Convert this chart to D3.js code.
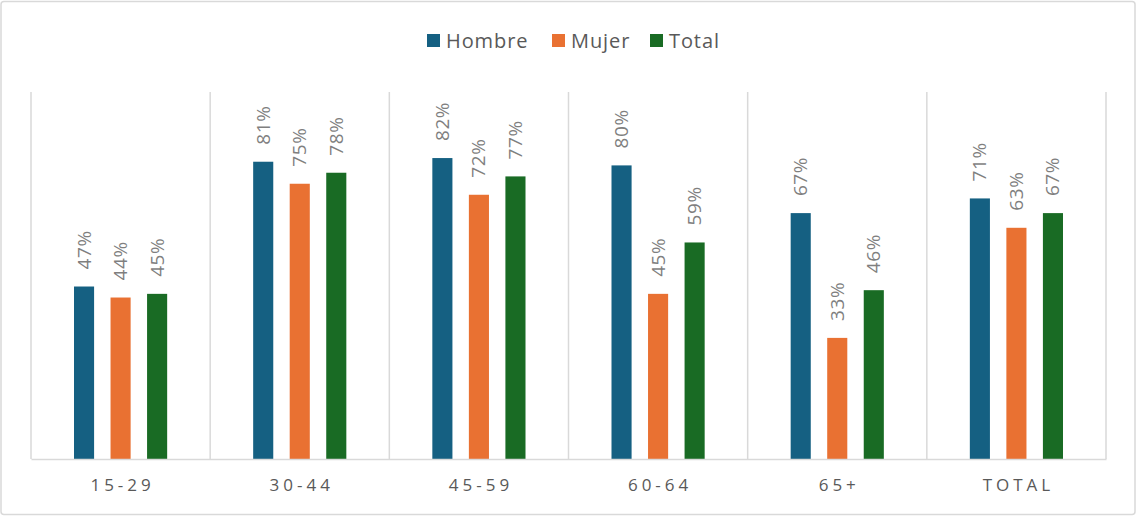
<!DOCTYPE html>
<html>
<head>
<meta charset="utf-8">
<script src="https://cdn.jsdelivr.net/npm/d3@7"></script>
<style>
  html, body { margin: 0; padding: 0; background: #fff; }
  svg { display: block; }
  text { font-family: "Open Sans", "Liberation Sans", Arial, sans-serif; }
</style>
</head>
<body>
<svg id="chart" width="1137" height="516"></svg>
<script>
const categories = ["15-29", "30-44", "45-59", "60-64", "65+", "TOTAL"];
const seriesNames = ["Hombre", "Mujer", "Total"];
const hombre = [47, 81, 82, 80, 67, 71];
const mujer = [44, 75, 72, 45, 33, 63];
const total = [45, 78, 77, 59, 46, 67];
const colors = ["#156082", "#E97132", "#196B24"];
const yMax = 100;

const seriesValues = [hombre, mujer, total];
const data = categories.map((c, i) => ({
  cat: c,
  vals: seriesNames.map((s, j) => ({ s, v: seriesValues[j][i], color: colors[j] }))
}));

const svg = d3.select("#chart");
const W = 1137, H = 516;
const plot = { left: 31, right: 1106, top: 92, bottom: 459 };

svg.append("rect").attr("x", 1).attr("y", 1.5).attr("width", W - 3).attr("height", H - 3)
  .attr("rx", 3).attr("fill", "#fff").attr("stroke", "#d9d9d9").attr("stroke-width", 1.5);

const x0 = d3.scaleBand().domain(categories).range([plot.left, plot.right]).padding(0);
const x1 = d3.scaleBand().domain(seriesNames).range([0, x0.bandwidth()])
  .paddingInner(0.45).paddingOuter(1.177);
const y = d3.scaleLinear().domain([0, yMax]).range([plot.bottom, plot.top]);

// separators
const bounds = categories.map(c => x0(c)).concat([x0(categories[categories.length - 1]) + x0.bandwidth()]);
svg.append("g").selectAll("line").data(bounds).join("line")
  .attr("x1", d => d).attr("x2", d => d)
  .attr("y1", y(yMax)).attr("y2", plot.bottom)
  .attr("stroke", "#d9d9d9").attr("stroke-width", 1.5);

// bars
const g = svg.append("g").selectAll("g").data(data).join("g")
  .attr("transform", d => `translate(${x0(d.cat)},0)`);
g.selectAll("rect").data(d => d.vals).join("rect")
  .attr("x", d => x1(d.s)).attr("width", x1.bandwidth())
  .attr("y", d => y(d.v)).attr("height", d => plot.bottom - y(d.v))
  .attr("fill", d => d.color);

g.selectAll("text").data(d => d.vals).join("text")
  .attr("transform", d => `translate(${x1(d.s) + x1.bandwidth() / 2 + 6.5},${y(d.v) - 17}) rotate(-90)`)
  .attr("text-anchor", "start")
  .attr("font-size", 19)
  .attr("letter-spacing", "0.6px")
  .attr("fill", "#7f7f7f")
  .text(d => d.v + "%");

// baseline axis
const xAxis = d3.axisBottom(x0).tickSize(0).tickPadding(20);
const ax = svg.append("g").attr("transform", `translate(0,${plot.bottom})`).call(xAxis);
ax.select(".domain").attr("stroke", "#d9d9d9").attr("stroke-width", 1.5);
ax.selectAll("text")
  .attr("font-size", 17).attr("fill", "#595959")
  .attr("letter-spacing", "4px")
  .attr("dx", "2px")
  .style("font-family", "'Open Sans', 'Liberation Sans', Arial, sans-serif");

// legend
const legendItems = [
  { name: "Hombre", x: 427 },
  { name: "Mujer", x: 552 },
  { name: "Total", x: 650 }
];
const lg = svg.append("g").selectAll("g").data(legendItems).join("g")
  .attr("transform", d => `translate(${d.x},34)`);
lg.append("rect").attr("width", 13).attr("height", 13)
  .attr("fill", (d, i) => colors[i]);
lg.append("text").attr("x", 19).attr("y", 13.5)
  .attr("font-size", 20).attr("fill", "#595959")
  .attr("letter-spacing", "0.9px")
  .text(d => d.name);
</script>
</body>
</html>
